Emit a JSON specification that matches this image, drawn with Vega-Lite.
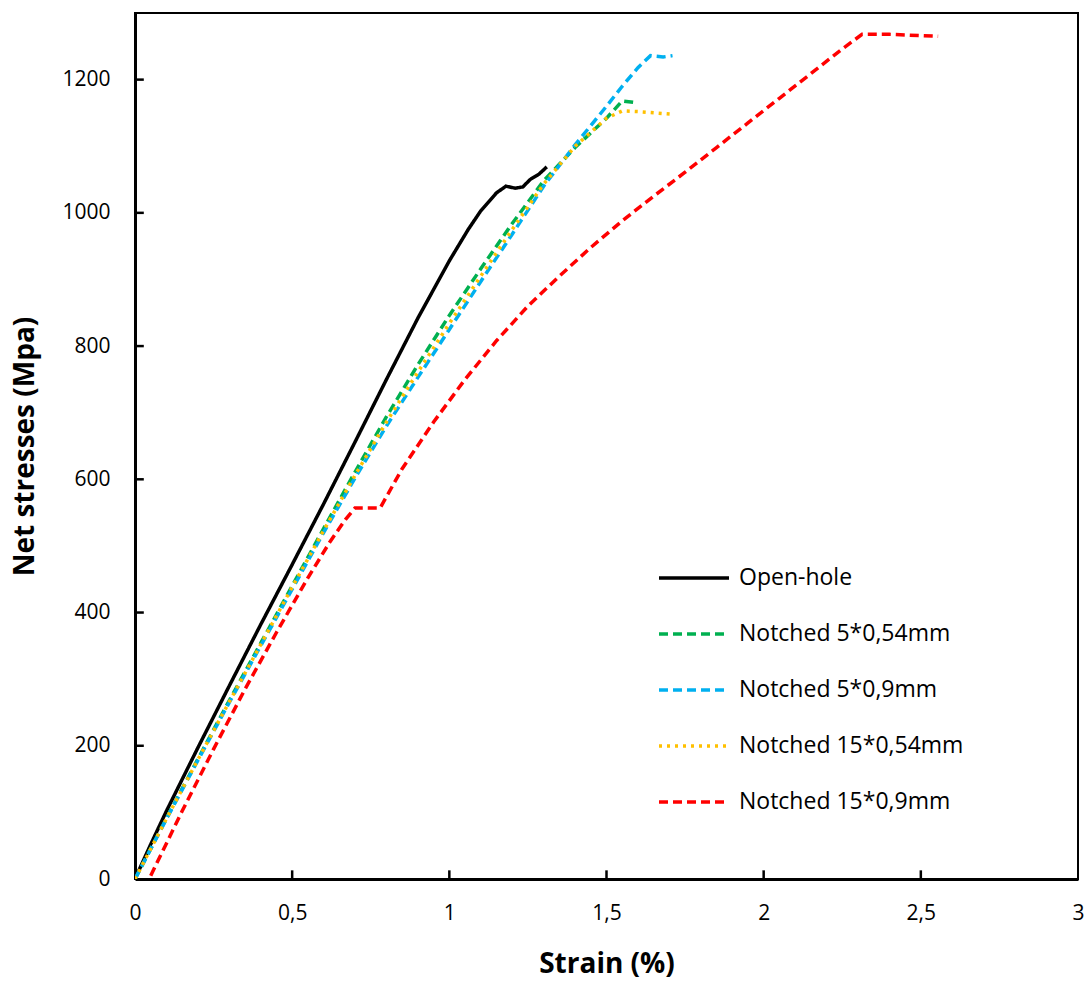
{
  "$schema": "https://vega.github.io/schema/vega-lite/v6.json",
  "width": 943,
  "height": 866,
  "autosize": {"type": "none"},
  "padding": {"left": 135, "top": 13, "right": 13, "bottom": 104},
  "background": "white",
  "config": {
    "view": {"stroke": "#000000", "strokeWidth": 2},
    "font": "Open Sans"
  },
  "datasets": {
    "xtickdata": [{"tx": 0.5, "y0": 0, "y1": 13}, {"tx": 1, "y0": 0, "y1": 13}, {"tx": 1.5, "y0": 0, "y1": 13}, {"tx": 2, "y0": 0, "y1": 13}, {"tx": 2.5, "y0": 0, "y1": 13}],
    "ytickdata": [{"ty": 200, "x0": 0, "x1": 0.028}, {"ty": 400, "x0": 0, "x1": 0.028}, {"ty": 600, "x0": 0, "x1": 0.028}, {"ty": 800, "x0": 0, "x1": 0.028}, {"ty": 1000, "x0": 0, "x1": 0.028}, {"ty": 1200, "x0": 0, "x1": 0.028}],
    "curves": [
      {"series": "Open-hole", "strain": 0, "stress": 0},
      {"series": "Open-hole", "strain": 0.05, "stress": 52},
      {"series": "Open-hole", "strain": 0.1, "stress": 102},
      {"series": "Open-hole", "strain": 0.2, "stress": 197},
      {"series": "Open-hole", "strain": 0.3, "stress": 290},
      {"series": "Open-hole", "strain": 0.4, "stress": 382},
      {"series": "Open-hole", "strain": 0.5, "stress": 472},
      {"series": "Open-hole", "strain": 0.6, "stress": 563},
      {"series": "Open-hole", "strain": 0.7, "stress": 656},
      {"series": "Open-hole", "strain": 0.8, "stress": 750},
      {"series": "Open-hole", "strain": 0.9, "stress": 842},
      {"series": "Open-hole", "strain": 1.0, "stress": 928},
      {"series": "Open-hole", "strain": 1.06, "stress": 975},
      {"series": "Open-hole", "strain": 1.1, "stress": 1003},
      {"series": "Open-hole", "strain": 1.15, "stress": 1030},
      {"series": "Open-hole", "strain": 1.18, "stress": 1040},
      {"series": "Open-hole", "strain": 1.21, "stress": 1037},
      {"series": "Open-hole", "strain": 1.234, "stress": 1039},
      {"series": "Open-hole", "strain": 1.257, "stress": 1050},
      {"series": "Open-hole", "strain": 1.285, "stress": 1058},
      {"series": "Open-hole", "strain": 1.31, "stress": 1069},
      {"series": "Notched 5*0,54mm", "strain": 0, "stress": 0},
      {"series": "Notched 5*0,54mm", "strain": 0.1, "stress": 91},
      {"series": "Notched 5*0,54mm", "strain": 0.2, "stress": 180},
      {"series": "Notched 5*0,54mm", "strain": 0.3, "stress": 268},
      {"series": "Notched 5*0,54mm", "strain": 0.4, "stress": 354},
      {"series": "Notched 5*0,54mm", "strain": 0.5, "stress": 440},
      {"series": "Notched 5*0,54mm", "strain": 0.6, "stress": 526},
      {"series": "Notched 5*0,54mm", "strain": 0.7, "stress": 611},
      {"series": "Notched 5*0,54mm", "strain": 0.8, "stress": 694},
      {"series": "Notched 5*0,54mm", "strain": 0.9, "stress": 772},
      {"series": "Notched 5*0,54mm", "strain": 1.0, "stress": 846},
      {"series": "Notched 5*0,54mm", "strain": 1.1, "stress": 916},
      {"series": "Notched 5*0,54mm", "strain": 1.2, "stress": 984},
      {"series": "Notched 5*0,54mm", "strain": 1.3, "stress": 1048},
      {"series": "Notched 5*0,54mm", "strain": 1.4, "stress": 1098},
      {"series": "Notched 5*0,54mm", "strain": 1.45, "stress": 1120},
      {"series": "Notched 5*0,54mm", "strain": 1.5, "stress": 1142},
      {"series": "Notched 5*0,54mm", "strain": 1.55, "stress": 1168},
      {"series": "Notched 5*0,54mm", "strain": 1.6, "stress": 1165},
      {"series": "Notched 5*0,9mm", "strain": 0, "stress": 0},
      {"series": "Notched 5*0,9mm", "strain": 0.1, "stress": 90},
      {"series": "Notched 5*0,9mm", "strain": 0.2, "stress": 178},
      {"series": "Notched 5*0,9mm", "strain": 0.3, "stress": 265},
      {"series": "Notched 5*0,9mm", "strain": 0.4, "stress": 350},
      {"series": "Notched 5*0,9mm", "strain": 0.5, "stress": 435},
      {"series": "Notched 5*0,9mm", "strain": 0.6, "stress": 520},
      {"series": "Notched 5*0,9mm", "strain": 0.7, "stress": 602},
      {"series": "Notched 5*0,9mm", "strain": 0.8, "stress": 680},
      {"series": "Notched 5*0,9mm", "strain": 0.9, "stress": 753},
      {"series": "Notched 5*0,9mm", "strain": 1.0, "stress": 825},
      {"series": "Notched 5*0,9mm", "strain": 1.1, "stress": 897},
      {"series": "Notched 5*0,9mm", "strain": 1.2, "stress": 968},
      {"series": "Notched 5*0,9mm", "strain": 1.3, "stress": 1040},
      {"series": "Notched 5*0,9mm", "strain": 1.4, "stress": 1102},
      {"series": "Notched 5*0,9mm", "strain": 1.5, "stress": 1160},
      {"series": "Notched 5*0,9mm", "strain": 1.55, "stress": 1190},
      {"series": "Notched 5*0,9mm", "strain": 1.6, "stress": 1218},
      {"series": "Notched 5*0,9mm", "strain": 1.64, "stress": 1236},
      {"series": "Notched 5*0,9mm", "strain": 1.68, "stress": 1234},
      {"series": "Notched 5*0,9mm", "strain": 1.71, "stress": 1236},
      {"series": "Notched 15*0,54mm", "strain": 0, "stress": 0},
      {"series": "Notched 15*0,54mm", "strain": 0.1, "stress": 90.5},
      {"series": "Notched 15*0,54mm", "strain": 0.2, "stress": 179},
      {"series": "Notched 15*0,54mm", "strain": 0.3, "stress": 266},
      {"series": "Notched 15*0,54mm", "strain": 0.4, "stress": 352},
      {"series": "Notched 15*0,54mm", "strain": 0.5, "stress": 438},
      {"series": "Notched 15*0,54mm", "strain": 0.6, "stress": 523},
      {"series": "Notched 15*0,54mm", "strain": 0.7, "stress": 606},
      {"series": "Notched 15*0,54mm", "strain": 0.8, "stress": 686},
      {"series": "Notched 15*0,54mm", "strain": 0.9, "stress": 761},
      {"series": "Notched 15*0,54mm", "strain": 1.0, "stress": 834},
      {"series": "Notched 15*0,54mm", "strain": 1.1, "stress": 905},
      {"series": "Notched 15*0,54mm", "strain": 1.2, "stress": 975},
      {"series": "Notched 15*0,54mm", "strain": 1.3, "stress": 1043},
      {"series": "Notched 15*0,54mm", "strain": 1.4, "stress": 1100},
      {"series": "Notched 15*0,54mm", "strain": 1.5, "stress": 1142},
      {"series": "Notched 15*0,54mm", "strain": 1.55, "stress": 1153},
      {"series": "Notched 15*0,54mm", "strain": 1.6, "stress": 1152},
      {"series": "Notched 15*0,54mm", "strain": 1.71, "stress": 1148},
      {"series": "Notched 15*0,9mm", "strain": 0.05, "stress": 5},
      {"series": "Notched 15*0,9mm", "strain": 0.15, "stress": 102},
      {"series": "Notched 15*0,9mm", "strain": 0.25, "stress": 195},
      {"series": "Notched 15*0,9mm", "strain": 0.35, "stress": 285},
      {"series": "Notched 15*0,9mm", "strain": 0.45, "stress": 370},
      {"series": "Notched 15*0,9mm", "strain": 0.55, "stress": 452},
      {"series": "Notched 15*0,9mm", "strain": 0.62, "stress": 506},
      {"series": "Notched 15*0,9mm", "strain": 0.67, "stress": 540},
      {"series": "Notched 15*0,9mm", "strain": 0.7, "stress": 557},
      {"series": "Notched 15*0,9mm", "strain": 0.78, "stress": 557},
      {"series": "Notched 15*0,9mm", "strain": 0.85, "stress": 616},
      {"series": "Notched 15*0,9mm", "strain": 0.95, "stress": 686},
      {"series": "Notched 15*0,9mm", "strain": 1.05, "stress": 750},
      {"series": "Notched 15*0,9mm", "strain": 1.15, "stress": 808},
      {"series": "Notched 15*0,9mm", "strain": 1.25, "stress": 860},
      {"series": "Notched 15*0,9mm", "strain": 1.35, "stress": 905},
      {"series": "Notched 15*0,9mm", "strain": 1.45, "stress": 948},
      {"series": "Notched 15*0,9mm", "strain": 1.55, "stress": 988},
      {"series": "Notched 15*0,9mm", "strain": 1.65, "stress": 1025},
      {"series": "Notched 15*0,9mm", "strain": 1.75, "stress": 1061},
      {"series": "Notched 15*0,9mm", "strain": 1.85, "stress": 1098},
      {"series": "Notched 15*0,9mm", "strain": 1.95, "stress": 1135},
      {"series": "Notched 15*0,9mm", "strain": 2.05, "stress": 1172},
      {"series": "Notched 15*0,9mm", "strain": 2.15, "stress": 1209},
      {"series": "Notched 15*0,9mm", "strain": 2.25, "stress": 1246},
      {"series": "Notched 15*0,9mm", "strain": 2.313, "stress": 1268},
      {"series": "Notched 15*0,9mm", "strain": 2.4, "stress": 1268},
      {"series": "Notched 15*0,9mm", "strain": 2.555, "stress": 1265}
    ]
  },
  "layer": [
    {
      "data": {"name": "curves"},
      "mark": {"type": "line", "strokeWidth": 3.5, "clip": true},
      "encoding": {
        "x": {
          "field": "strain",
          "type": "quantitative",
          "title": "Strain (%)",
          "scale": {"domain": [0, 3], "nice": false, "zero": false},
          "axis": {
            "values": [0, 0.5, 1, 1.5, 2, 2.5, 3],
            "labelExpr": "replace(format(datum.value, '~g'), '.', ',')",
            "labelFlush": false,
            "grid": false,
            "ticks": false,
            "domainColor": "#000000",
            "domainWidth": 3,
            "labelPadding": 23,
            "labelFontSize": 21,
            "labelColor": "#000000",
            "labelFont": "Open Sans",
            "titleFont": "Open Sans",
            "titleFontSize": 28,
            "titleFontWeight": "bold",
            "titleColor": "#000000",
            "titlePadding": 27
          }
        },
        "y": {
          "field": "stress",
          "type": "quantitative",
          "title": "Net stresses (Mpa)",
          "scale": {"domain": [0, 1300], "nice": false, "zero": false},
          "axis": {
            "values": [0, 200, 400, 600, 800, 1000, 1200],
            "format": "d",
            "labelFlush": false,
            "grid": false,
            "ticks": false,
            "domainColor": "#000000",
            "domainWidth": 3,
            "labelPadding": 25,
            "labelFontSize": 21,
            "labelColor": "#000000",
            "labelFont": "Open Sans",
            "titleFont": "Open Sans",
            "titleFontSize": 28,
            "titleFontWeight": "bold",
            "titleColor": "#000000",
            "titlePadding": 22
          }
        },
        "color": {
          "field": "series",
          "type": "nominal",
          "scale": {
            "domain": ["Open-hole", "Notched 5*0,54mm", "Notched 5*0,9mm", "Notched 15*0,54mm", "Notched 15*0,9mm"],
            "range": ["#000000", "#00B050", "#00B0F0", "#FFC000", "#FF0000"]
          },
          "legend": {
            "title": null,
            "orient": "none",
            "legendX": 522,
            "legendY": 553,
            "padding": 0,
            "symbolType": "stroke",
            "symbolSize": 4900,
            "symbolStrokeWidth": 3.5,
            "clipHeight": 24,
            "rowPadding": 32,
            "labelOffset": 8,
            "labelFontSize": 23,
            "labelFont": "Open Sans",
            "labelColor": "#000000",
            "labelLimit": 400
          }
        },
        "strokeDash": {
          "field": "series",
          "type": "nominal",
          "scale": {
            "domain": ["Open-hole", "Notched 5*0,54mm", "Notched 5*0,9mm", "Notched 15*0,54mm", "Notched 15*0,9mm"],
            "range": [[1, 0], [9, 5], [9, 5], [3, 5], [9, 5]]
          },
          "legend": null
        }
      }
    },
    {
      "data": {"name": "xtickdata"},
      "mark": {"type": "rule", "color": "#000000", "strokeWidth": 2.5},
      "encoding": {
        "x": {"field": "tx", "type": "quantitative", "title": "Strain (%)"},
        "y": {"field": "y0", "type": "quantitative", "title": "Net stresses (Mpa)"},
        "y2": {"field": "y1"}
      }
    },
    {
      "data": {"name": "ytickdata"},
      "mark": {"type": "rule", "color": "#000000", "strokeWidth": 2.5},
      "encoding": {
        "y": {"field": "ty", "type": "quantitative", "title": "Net stresses (Mpa)"},
        "x": {"field": "x0", "type": "quantitative", "title": "Strain (%)"},
        "x2": {"field": "x1"}
      }
    }
  ]
}
